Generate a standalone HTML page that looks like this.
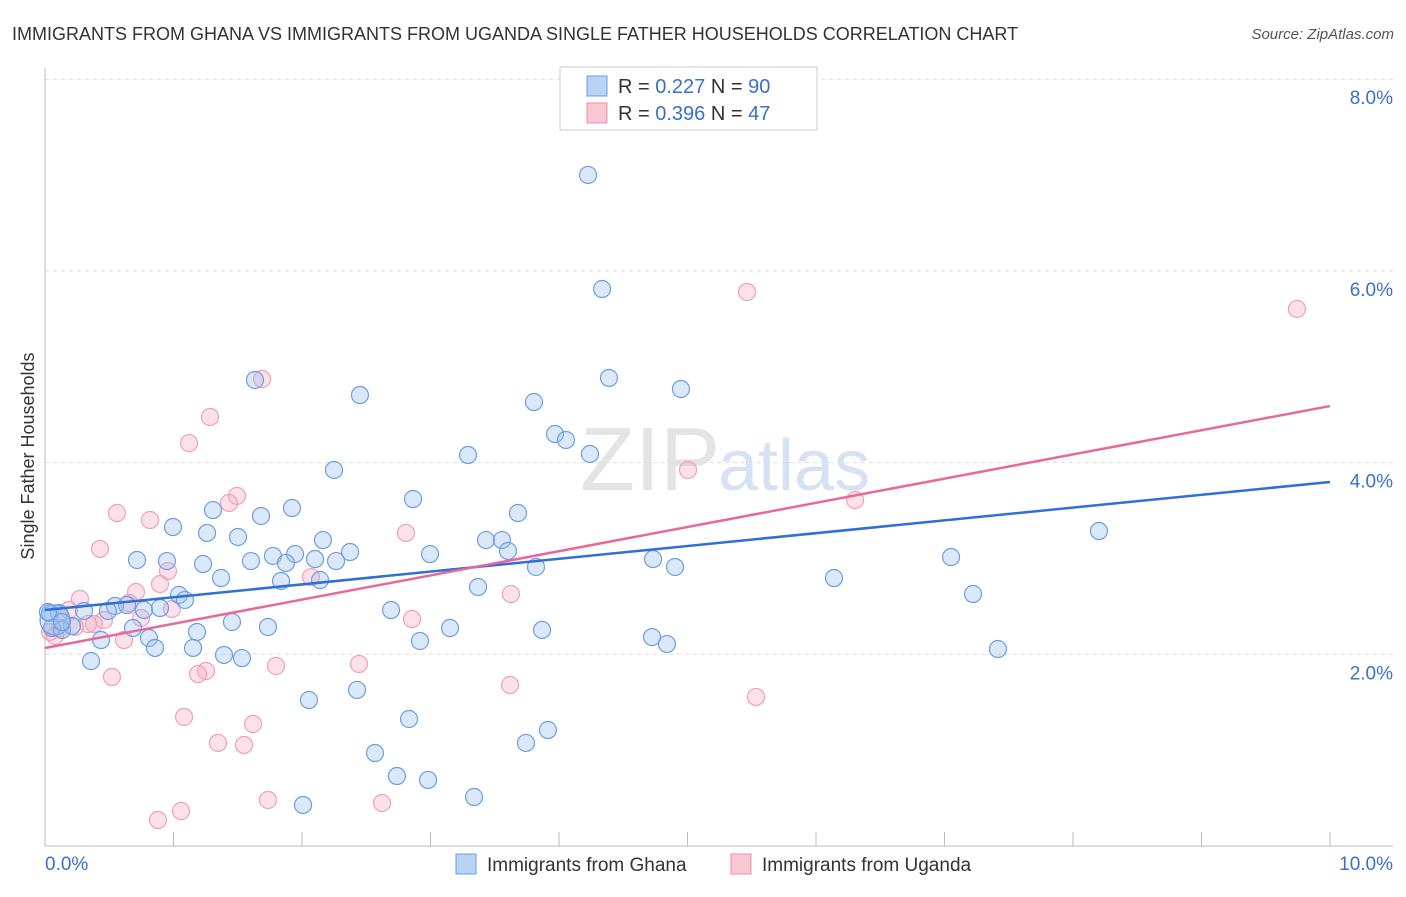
<!DOCTYPE html>
<html><head><meta charset="utf-8"><style>
body{margin:0;background:#fff;font-family:"Liberation Sans",sans-serif;}
svg text{font-family:"Liberation Sans",sans-serif;}
</style></head><body>
<svg id="c" width="1406" height="892">
<text x="12" y="40" font-size="18" fill="#333">IMMIGRANTS FROM GHANA VS IMMIGRANTS FROM UGANDA SINGLE FATHER HOUSEHOLDS CORRELATION CHART</text>
<text x="1394" y="39" font-size="15" fill="#555" font-style="italic" text-anchor="end">Source: ZipAtlas.com</text>
<text x="720" y="490" font-size="90" fill="#e4e4e4" text-anchor="end" font-family="Liberation Serif">ZIP</text>
<text x="718" y="490" font-size="72" fill="#d6e2f4">atlas</text>
<text transform="translate(34,456) rotate(-90)" font-size="18" fill="#333" text-anchor="middle">Single Father Households</text>
<g id="grid"></g><g id="pts"></g><g id="lines"></g>
<g>
<rect x="560" y="67" width="257" height="63" fill="#fff" stroke="#ccc"/>
<rect x="587" y="76" width="20" height="20" fill="#b8d3f5" stroke="#6a9de0"/>
<rect x="587" y="103" width="20" height="20" fill="#f9c6d4" stroke="#ee8eaa"/>
<text x="618" y="93" font-size="20" fill="#333">R = <tspan fill="#3a70cc">0.227</tspan>   N = <tspan fill="#3a70cc">90</tspan></text>
<text x="618" y="120" font-size="20" fill="#333">R = <tspan fill="#3a70cc">0.396</tspan>   N = <tspan fill="#3a70cc">47</tspan></text>
</g>
<g>
<rect x="456" y="854" width="20" height="20" fill="#b8d3f5" stroke="#6a9de0"/>
<text x="487" y="871" font-size="19" fill="#333">Immigrants from Ghana</text>
<rect x="731" y="854" width="20" height="20" fill="#f9c6d4" stroke="#ee8eaa"/>
<text x="762" y="871" font-size="19" fill="#333">Immigrants from Uganda</text>
</g>
</svg>
<script>
const yTicks=[2,4,6,8];
const yTickLabels=["2.0%","4.0%","6.0%","8.0%"];
const xTickLabels=["0.0%","10.0%"];
const ghanaPx=[[588,175],[602,289],[609,378],[681,389],[255,380],[360,395],[534,402],[555,434],[566,440],[590,454],[468,455],[334,470],[413,499],[213,510],[292,508],[518,513],[173,527],[207,533],[261,516],[238,537],[323,540],[486,540],[502,540],[350,552],[295,554],[273,556],[315,559],[430,554],[508,551],[137,560],[167,561],[203,564],[251,561],[286,563],[336,561],[653,559],[675,567],[536,567],[951,557],[1099,531],[221,578],[281,581],[320,580],[834,578],[478,587],[179,595],[185,600],[973,594],[115,606],[127,605],[160,608],[144,610],[84,611],[108,611],[50,613],[59,613],[391,610],[232,622],[268,627],[133,628],[72,626],[52,628],[62,630],[101,640],[149,638],[197,632],[450,628],[542,630],[652,637],[667,644],[155,648],[193,648],[420,641],[224,655],[242,658],[998,649],[91,661],[357,690],[309,700],[409,719],[548,730],[526,743],[375,753],[397,776],[428,780],[474,797],[303,805],[55,620],[48,612],[62,622]];
const ugandaPx=[[747,292],[1297,309],[262,379],[210,417],[189,443],[688,470],[237,496],[229,503],[855,500],[117,513],[150,520],[406,533],[100,549],[168,571],[160,584],[311,577],[136,592],[80,599],[129,603],[172,609],[69,610],[141,618],[412,619],[104,620],[511,594],[94,624],[60,628],[55,636],[124,640],[276,666],[359,664],[206,671],[198,674],[112,677],[510,685],[756,697],[184,717],[253,724],[218,743],[244,745],[268,800],[382,803],[181,811],[158,820],[88,624],[50,632],[75,627]];
// convert read pixel estimates into data values (percent)
const ghanaX=ghanaPx.map(p=>+((p[0]-45)/128.5).toFixed(3));
const ghanaY=ghanaPx.map(p=>+((846-p[1])/95.85).toFixed(3));
const ugandaX=ugandaPx.map(p=>+((p[0]-45)/128.5).toFixed(3));
const ugandaY=ugandaPx.map(p=>+((846-p[1])/95.85).toFixed(3));
const ghanaTrend=[2.462,3.798];
const ugandaTrend=[2.066,4.59];
const X=v=>45+v*128.5, Y=v=>846-v*95.85;
const NS="http://www.w3.org/2000/svg";
function mk(tag,attrs,parent){const e=document.createElementNS(NS,tag);for(const k in attrs)e.setAttribute(k,attrs[k]);parent.appendChild(e);return e;}
const grid=document.getElementById('grid');
yTicks.forEach((t,i)=>{
  const l=mk('line',{x1:45,x2:1393,y1:Y(t),y2:Y(t),stroke:'#ddd','stroke-dasharray':'4,4'},grid);
  
  
  const tx=mk('text',{x:1393,y:Y(t)+25,'font-size':19,fill:'#3a70cc','text-anchor':'end'},grid);
  tx.textContent=yTickLabels[i];
  
  
});
mk('line',{x1:45,x2:45,y1:68,y2:846,stroke:'#bbb'},grid);
mk('line',{x1:45,x2:1393,y1:846,y2:846,stroke:'#bbb'},grid);
for(let i=0;i<=10;i++){
  const t=mk('line',{x1:X(i),x2:X(i),y1:832,y2:846,stroke:'#bbb'},grid);
  
  
}
const xl0=mk('text',{x:45,y:870,'font-size':19,fill:'#3a70cc'},grid);xl0.textContent=xTickLabels[0];


const xl1=mk('text',{x:1393,y:870,'font-size':19,fill:'#3a70cc','text-anchor':'end'},grid);xl1.textContent=xTickLabels[1];


const pts=document.getElementById('pts');
ugandaX.forEach((x,i)=>{
  const c=mk('circle',{cx:X(x),cy:Y(ugandaY[i]),r:8.5,fill:'rgba(246,170,195,0.35)',stroke:'#f0a0b8','stroke-width':1.2},pts);
  
  
});
ghanaX.forEach((x,i)=>{
  const c=mk('circle',{cx:X(x),cy:Y(ghanaY[i]),r:i==87?15:8.5,fill:'rgba(150,190,240,0.35)',stroke:'#6d9fdf','stroke-width':1.2},pts);
  
  
});
const lines=document.getElementById('lines');
const lb=mk('line',{x1:X(0),y1:Y(ghanaTrend[0]),x2:X(10),y2:Y(ghanaTrend[1]),stroke:'#2f6fd6','stroke-width':2.5},lines);


const lp=mk('line',{x1:X(0),y1:Y(ugandaTrend[0]),x2:X(10),y2:Y(ugandaTrend[1]),stroke:'#e8689a','stroke-width':2.5},lines);


</script>
</body></html>
